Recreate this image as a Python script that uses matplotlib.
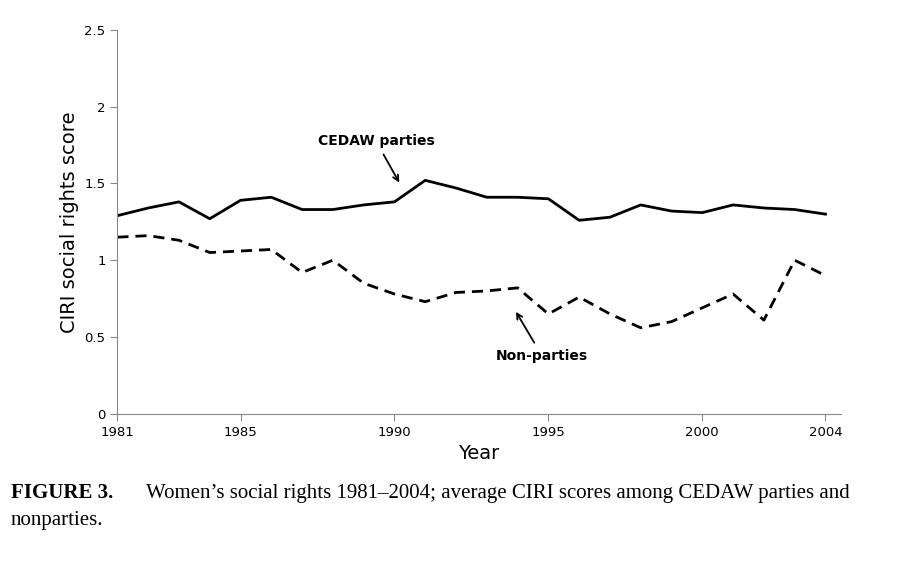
import matplotlib.pyplot as plt

years = list(range(1981, 2005))
cedawParties = [1.29, 1.34, 1.38, 1.27, 1.39, 1.41, 1.33, 1.33, 1.36, 1.38, 1.52, 1.47,
                1.41, 1.41, 1.40, 1.26, 1.28, 1.36, 1.32, 1.31, 1.36, 1.34, 1.33, 1.30]
nonParties = [1.15, 1.16, 1.13, 1.05, 1.06, 1.07, 0.92, 1.00, 0.85, 0.78, 0.73, 0.79,
              0.80, 0.82, 0.65, 0.76, 0.65, 0.56, 0.60, 0.69, 0.78, 0.61, 1.00, 0.90]
xTicks = [1981, 1985, 1990, 1995, 2000, 2004]
yTicks = [0, 0.5, 1, 1.5, 2, 2.5]

fig = plt.figure(figsize=(9.10, 5.63), dpi=100)
ax = fig.add_axes([0.129, 0.265, 0.795, 0.682])

ax.plot(years, cedawParties, color='black', linewidth=2)
ax.plot(years, nonParties, color='black', linewidth=2, linestyle=(0, (4, 2.5)))

ax.set_xlim(1981, 2004.5)
ax.set_ylim(0, 2.5)
ax.set_xticks(xTicks)
ax.set_yticks(yTicks)
ax.set_yticklabels(['0', '0.5', '1', '1.5', '2', '2.5'])
ax.tick_params(labelsize=9.5, color='#888888', direction='out', length=5)
for s in ['top', 'right']:
    ax.spines[s].set_visible(False)
for s in ['left', 'bottom']:
    ax.spines[s].set_color('#888888')

ax.set_xlabel('Year', fontsize=14)
ax.set_ylabel('CIRI social rights score', fontsize=14)

ax.annotate('CEDAW parties', xy=(1990.2, 1.49), xytext=(1989.4, 1.75),
            fontsize=10, fontweight='bold', ha='center',
            arrowprops=dict(arrowstyle='->', color='black', lw=1.3, shrinkA=3))
ax.annotate('Non-parties', xy=(1993.9, 0.68), xytext=(1994.8, 0.35),
            fontsize=10, fontweight='bold', ha='center',
            arrowprops=dict(arrowstyle='->', color='black', lw=1.3, shrinkA=3))

fig.text(0.012, 0.115, 'FIGURE 3.', fontsize=15, fontweight='bold', family='Liberation Serif')
fig.text(0.16, 0.115, "Women\u2019s social rights 1981\u20132004; average CIRI scores among CEDAW parties and",
         fontsize=15, family='Liberation Serif')
fig.text(0.012, 0.068, 'nonparties.', fontsize=15, family='Liberation Serif')

fig.savefig('out.png')
